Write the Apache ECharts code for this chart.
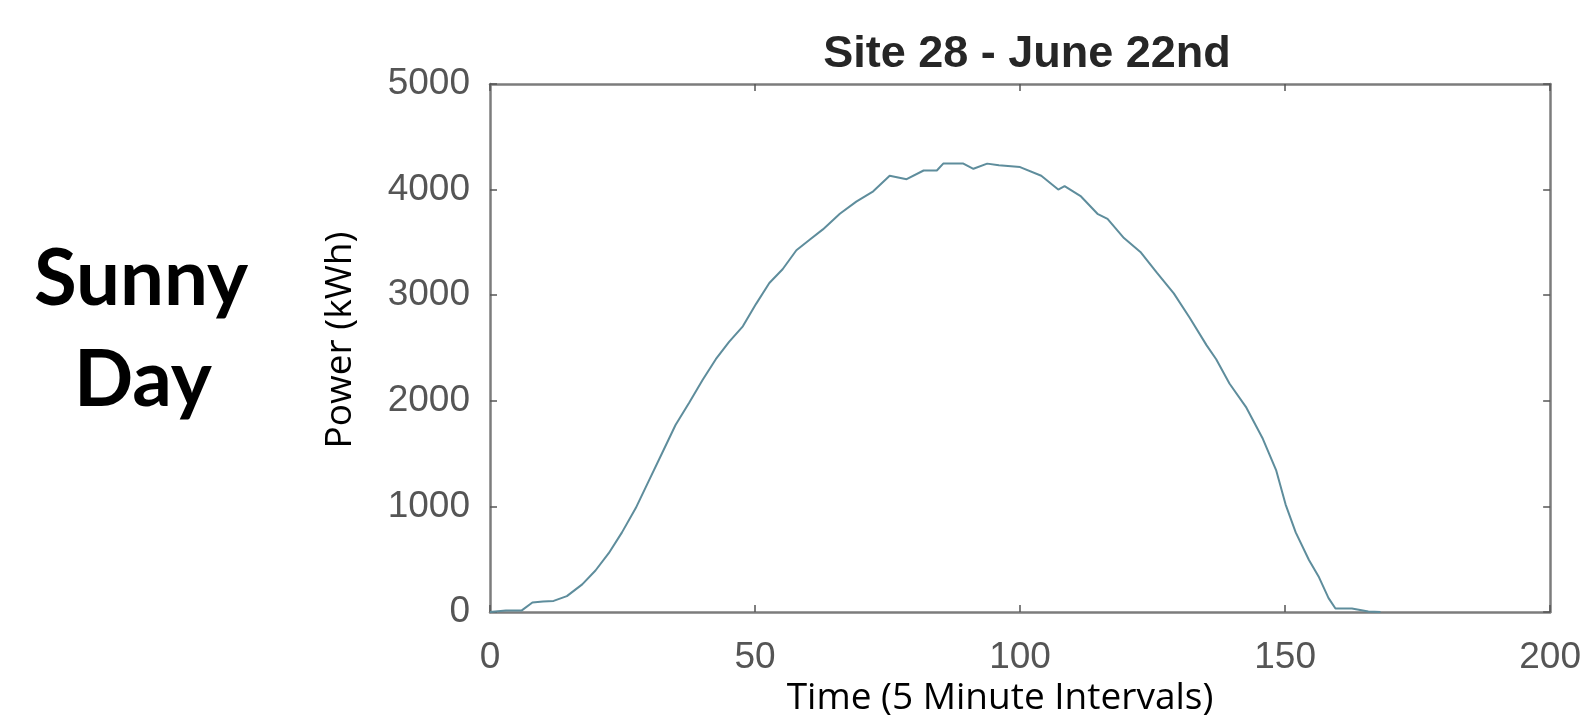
<!DOCTYPE html>
<html>
<head>
<meta charset="utf-8">
<title>Site 28 - June 22nd</title>
<script src="https://cdn.jsdelivr.net/npm/echarts@6/dist/echarts.min.js"></script>
<style>
  html, body { margin: 0; padding: 0; background: #fff; }
  #chart { width: 1584px; height: 716px; }
</style>
</head>
<body>
<div id="chart"></div>
<script>
// values (x = interval index, y = power in kWh)
const timeIdx = [
  0, 3, 6, 8, 10, 12, 14.5, 17.4, 19.9, 22.4, 24.9, 27.5, 30, 32.5, 35, 37.6, 40.1,
  42.6, 45.1, 47.7, 50.2, 52.7, 55.2, 57.8, 60.3, 62.8, 66, 69.1, 72.3, 75.4, 78.6,
  81.8, 84.3, 85.5, 89.3, 91.2, 93.8, 96, 100, 104, 107.2, 108.4, 111.5, 114.6,
  116.5, 119.6, 122.7, 125.8, 129, 132, 135.2, 137, 139.5, 142.7, 145.8, 148.3,
  150.1, 152, 154.5, 156.4, 158.2, 159.5, 162.6, 165.7, 168
];
const powerKwh = [
  0, 15, 15, 90, 100, 105, 150, 262, 393, 557, 754, 984, 1246, 1508, 1771, 1984, 2197,
  2394, 2558, 2705, 2918, 3115, 3246, 3426, 3525, 3623, 3771, 3886, 3984, 4131, 4099,
  4181, 4181, 4246, 4246, 4197, 4246, 4230, 4213, 4131, 4000, 4033, 3935, 3771,
  3722, 3541, 3410, 3213, 3017, 2787, 2525, 2394, 2164, 1935, 1640, 1344,
  1017, 754, 492, 328, 131, 33, 33, 5, 0
];

const chartTitle = 'Site 28 - June 22nd';
const xName = 'Time (5 Minute Intervals)';
const yName = 'Power (kWh)';
const sideLabel = ['Sunny', 'Day'];

const AXIS_GREY = '#7c7c7c';
const LABEL_FONT = '"Liberation Sans", Arial, sans-serif';

const chart = echarts.init(document.getElementById('chart'));

// box axes (top / right) share the same scales, no labels
function boxAxis(extra) {
  return Object.assign({
    axisLine: { show: true, onZero: false, lineStyle: { color: AXIS_GREY, width: 2.5 } },
    axisTick: { show: true, inside: true, length: 7, lineStyle: { color: '#555', width: 1.5 } },
    splitLine: { show: false },
  }, extra);
}

const plainNum = (v) => String(v);

const option = {
  animation: false,
  backgroundColor: '#fff',
  title: {
    text: chartTitle,
    left: 1022,
    top: 27,
    textAlign: 'center',
    textStyle: {
      fontFamily: '"Liberation Sans", Arial, sans-serif',
      fontWeight: 'bold',
      fontSize: 45,
      color: '#262626',
    },
  },
  grid: { left: 490, right: 29, top: 84, bottom: 104, containLabel: false },
  xAxis: [
    boxAxis({
      type: 'value', position: 'bottom', min: 0, max: 200, interval: 50,
      axisLabel: { margin: 27, fontFamily: LABEL_FONT, fontSize: 37, color: '#555', formatter: plainNum },
    }),
    boxAxis({
      type: 'value', position: 'top', min: 0, max: 200, interval: 50,
      axisLabel: { show: false },
    }),
  ],
  yAxis: [
    boxAxis({
      type: 'value', position: 'left', min: 0, max: 5000, interval: 1000,
      axisLabel: { margin: 20, fontFamily: LABEL_FONT, fontSize: 37, color: '#555', formatter: plainNum },
    }),
    boxAxis({
      type: 'value', position: 'right', min: 0, max: 5000, interval: 1000,
      axisLabel: { show: false },
    }),
  ],
  series: [{
    type: 'line',
    data: timeIdx.map((t, i) => [t, powerKwh[i]]),
    showSymbol: false,
    lineStyle: { color: '#5e8d9c', width: 2 },
  }],
  graphic: [
    {
      type: 'text', x: 340, y: 340, rotation: Math.PI / 2,
      style: {
        text: yName, fill: '#000', textAlign: 'center', textVerticalAlign: 'middle',
        font: '37px "Open Sans", sans-serif',
      },
    },
    {
      type: 'text', x: 1000, y: 698,
      style: {
        text: xName, fill: '#000', textAlign: 'center', textVerticalAlign: 'middle',
        font: '37px "Open Sans", sans-serif',
      },
    },
    {
      type: 'text', x: 141, y: 280,
      style: {
        text: sideLabel[0], fill: '#000', textAlign: 'center', textVerticalAlign: 'middle',
        font: 'bold 78px Lato, sans-serif',
      },
    },
    {
      type: 'text', x: 143, y: 381,
      style: {
        text: sideLabel[1], fill: '#000', textAlign: 'center', textVerticalAlign: 'middle',
        font: 'bold 78px Lato, sans-serif',
      },
    },
  ],
};

chart.setOption(option);
</script>
</body>
</html>
